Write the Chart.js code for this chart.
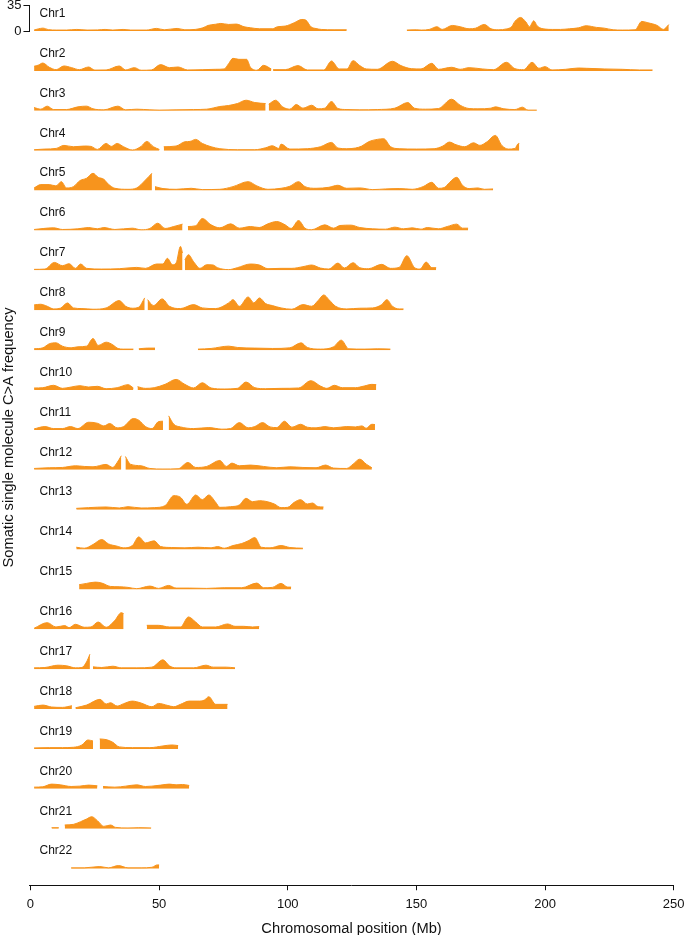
<!DOCTYPE html>
<html><head><meta charset="utf-8">
<script src="https://cdn.jsdelivr.net/npm/chart.js@4.4.1/dist/chart.umd.min.js"></script>
<style>html,body{margin:0;padding:0;background:#fff}#wrap{width:691px;height:935px;position:relative}</style>
</head><body><div id="wrap"><canvas id="c" width="691" height="935"></canvas></div>
<script>
const chrNames = ['Chr1','Chr2','Chr3','Chr4','Chr5','Chr6','Chr7','Chr8','Chr9','Chr10','Chr11','Chr12','Chr13','Chr14','Chr15','Chr16','Chr17','Chr18','Chr19','Chr20','Chr21','Chr22'];
const xTicks = [0,50,100,150,200,250];
const yTicks = [0,35];
const xTitle = 'Chromosomal position (Mb)';
const yTitle = 'Somatic single molecule C>A frequency';

// [position (Mb), frequency]; null marks a gap
const chr1 = [[1.4,1.5],[3,3],[4.8,4.1],[7,2],[10,1.4],[14,1.4],[18,2.3],[22,1.4],[26,1.6],[29,2.3],[32,1.4],[36,2.3],[39,1.4],[45,1.4],[49,3.7],[52,1.8],[57,3.7],[60,1.8],[64,2.3],[67,4.5],[69,7.8],[72,9.5],[74,10.6],[77,9.2],[80,9.7],[83,6],[85.5,4.6],[89,3.2],[94,3.2],[96,6],[99,6.9],[102.5,11.5],[105.5,16.1],[107,15.2],[109,6],[111,3.5],[113,2.3],[118,1.8],[122.9,1.8],[123.5,null],[146.3,1.4],[150,1.8],[152,1.4],[155,2.3],[158,6],[160,2.3],[164,7.8],[167,6],[170.5,3.2],[173,4],[176.4,9.2],[179,3.2],[182,1.8],[185,3],[187,6],[188.3,13.4],[190.5,18.9],[192.5,12.9],[194,6],[195.6,14.3],[197,6.9],[200,2.8],[203,2.3],[206,2.3],[209.5,3.2],[213,4.5],[216,7.4],[220,5.1],[223,4.1],[226.5,1.8],[230,1.4],[235,1.8],[237.6,13.4],[240,11.5],[243.6,7.8],[246,2.3],[248.1,9]];
const chr2 = [[1.4,6.5],[3,8],[4.8,11],[7.3,5.1],[10,1.8],[13,6.9],[16,4.6],[19,1.8],[22.6,5.5],[25,1.2],[29.4,1.4],[34.5,6.9],[37,1.4],[40.4,4.6],[43,1],[47,1.4],[50.6,8.8],[54,4.6],[57.4,5.5],[61,1.4],[67,1.8],[72,2.3],[75.3,2.8],[77,10],[78.7,17.5],[81,16.1],[84,16.1],[85.5,5.1],[88,1],[90.6,7.8],[93.6,2.8],[94,null],[94.3,1.8],[99,1.8],[104,7.4],[107.6,1.4],[114,1.4],[117,13.8],[120,2.8],[123,2.8],[125.4,14.3],[128,7.4],[130.5,2.8],[134.8,2.3],[140.7,13.4],[144,7.4],[148,3.2],[151.8,2.8],[156,10.6],[158.6,2.3],[163.7,5.1],[167,2.3],[170.5,4.6],[175.6,2.8],[180,1.8],[185,12],[188.3,3.2],[191.7,1.8],[195,12],[197.6,3.7],[200,6],[202.7,1.4],[208,2.3],[213,4.1],[216,3.7],[223,2.8],[230,2.3],[236.7,1.4],[241.8,1.4]];
const chr3 = [[1.4,4.6],[4,2.3],[6.5,6.5],[9,1.8],[14,1.8],[18.4,5.5],[21.8,6.5],[24.3,2.8],[28.5,1.4],[34,6.5],[37,1.4],[41.3,2.3],[46.4,1.4],[50,1],[56.6,1.4],[63.4,1.8],[68.5,2.3],[73.6,6],[77,7.4],[80.4,10.1],[83.8,14.7],[87.2,11.5],[91.4,10.1],[91.9,null],[92.6,9.2],[95.3,14.7],[98,5.5],[100.8,2.3],[103.3,8.8],[105.9,3.7],[109.3,7.8],[111.8,2.8],[114.4,3.7],[117,12.9],[119.5,3.2],[123,1.8],[128,1.4],[134.8,1.8],[141.6,3.7],[146.7,11.5],[149.2,3.7],[153.5,2.3],[158.6,3.2],[163.7,16.1],[167,7.8],[170.5,3.2],[173.9,2.8],[179,3.7],[180.7,5.5],[184,2.8],[188.3,1.8],[191.2,5.1],[193.4,1],[196.8,1]];
const chr4 = [[1.4,1.4],[5.6,2.3],[10,3.2],[13,7.4],[16.7,5.5],[21,6.5],[23.5,6],[26,1.8],[29.4,10.1],[31.4,6],[33.7,10.1],[36.2,5.5],[39.6,1],[43,6],[45.2,12.9],[47.8,5.5],[50.1,1.8],[50.9,null],[51.8,5.5],[56.6,6.5],[60,12.4],[62,12.9],[64.2,15.7],[66.8,10.1],[70.2,5.5],[73.6,2.8],[80.4,1.4],[87.2,1.4],[91.4,4.1],[94,6.9],[96.5,3.2],[97.4,9.2],[100.8,2.3],[107.6,2.8],[112.7,5.5],[117,11.5],[119.5,3.7],[122.9,2.8],[126.3,3.7],[128.8,6.5],[131.4,12.4],[134.8,15.7],[137.3,16.6],[140,5.5],[143.3,2.8],[150,2.3],[156.9,2.8],[160.3,6.5],[162.8,12],[165.4,8.3],[168.8,5.5],[172.2,11],[174.7,7.4],[177.3,12],[180.7,21.2],[183.2,7.4],[185.8,2.3],[188.3,3.2],[189.7,10.1],[190,10]];
const chr5 = [[1.4,3.7],[4,8.3],[7.3,8.3],[9.9,6.5],[12,12.4],[14,3.7],[16.7,5.5],[19.2,13.8],[21.8,17.1],[24.3,24],[26.3,18.4],[28.5,15.7],[30.3,8.8],[32.8,3.2],[37.9,1.8],[41.3,3.7],[44.7,14.7],[47.2,24],[47.6,null],[48.4,5.5],[51.5,2.8],[56.6,1.8],[62.5,3.2],[66.8,1.4],[73.6,1.8],[78.7,5.5],[84.6,12.4],[88,6.5],[92.3,1.8],[97.4,3.2],[100.8,6],[104.2,12.4],[106.7,5.5],[111,3.2],[116,4.6],[119.5,7.4],[122.9,3.2],[128,3.7],[133,1.4],[138,2.3],[143.3,2.8],[148.4,1.8],[152.6,5.5],[156,11.5],[158.6,3.2],[161,4.6],[162.8,11],[165.7,18.4],[167.9,7.4],[170.5,2.8],[173.9,3.7],[176.4,1.8],[179.8,2.3]];
const chr6 = [[1.4,1.4],[9,3.7],[12.4,1.4],[18.4,2.3],[22.6,4.1],[26,2.3],[28.5,4.1],[32.8,1.4],[39.6,3.2],[43,0.9],[46.4,2.8],[49.5,10.1],[52.3,2.8],[55.7,5.5],[59.1,8.8],[59.6,null],[61.2,5.5],[64.2,6.5],[66.8,16.6],[70.2,7.8],[73.6,3.7],[77.8,9.2],[81.2,3.2],[85.5,5.5],[88.9,4.1],[92.3,9.2],[95.7,12.4],[99,7.8],[101.3,2.8],[104.2,13.8],[106.7,3.2],[109.3,1],[114.4,7.8],[117.8,3.2],[120.3,6.9],[124.6,7.4],[128,4.1],[133,2.3],[138,1.8],[141.6,4.6],[145,2.3],[148.4,3.7],[151.8,1.8],[154.3,4.1],[158.6,2.3],[162,5.5],[165.7,8.8],[167.9,3.2],[170.1,3.2]];
const chr7 = [[1.4,1.4],[5.6,1.8],[9.3,11],[12.4,6.5],[15,9.2],[17.5,2.8],[19.5,8.8],[21.8,2.8],[27.7,1.8],[34.5,2.3],[41.3,4.1],[44.7,2.8],[49,8.8],[51.5,8.8],[53.2,16.6],[55.2,7.8],[56.6,10.1],[58.3,33.2],[59.1,24],[59.4,null],[60,14.7],[61.4,21.7],[63.4,12],[65.9,2.8],[68.5,7.8],[71,7.4],[72.7,3.7],[77,1],[80.4,3.7],[85.5,8.8],[89,7.4],[92.3,2.3],[97.4,2.8],[101.6,2.8],[105.9,5.1],[109.3,7.4],[112.7,3.2],[116,1.8],[119.5,10.1],[122,3.2],[125.4,10.6],[128,3.7],[131.4,2.3],[136.5,8.3],[139.9,2.8],[143.3,4.1],[146.3,20.3],[149.2,4.1],[151.4,1.8],[153.8,11.5],[156,3.7],[157.7,3.7]];
const chr8 = [[1.4,7.4],[3.9,8.3],[6.5,5.5],[9,1.8],[11.6,2.8],[14.4,10.1],[16.7,3.2],[20,2.3],[24.3,1.4],[29.4,3.2],[34.5,13.4],[37,5.5],[39.6,2.8],[42,4.1],[44.4,17.1],[44.9,null],[45.5,14.7],[47.8,6.5],[51.2,15.7],[54,5.5],[58.3,2.3],[63.4,7.8],[66.8,3.2],[72,2.3],[77,10.1],[78.7,14.7],[81.2,5.5],[84.6,18.4],[86.8,10.1],[89,17.1],[91.4,9.2],[94,6.5],[97.4,3.2],[101.6,1.4],[105.9,7.8],[109.3,5.5],[111.8,13.4],[114,21.2],[116,14.7],[118.6,5.5],[122.9,1.8],[128,2.8],[133,3.2],[136.5,7.8],[138.5,14.7],[140.7,5.5],[143.3,1.8],[145,1.8]];
const chr9 = [[1.4,1.8],[4.8,3.2],[7.3,8.8],[9.9,10.1],[12.4,5.5],[15.8,3.2],[18.4,4.6],[21.8,5.5],[24.3,16.1],[26.3,6.5],[29.4,11],[32,7.4],[33.7,2.8],[36.2,1.4],[40,1.4],[41,null],[42.1,1.8],[45.5,2.8],[48.4,2.8],[55,null],[65.1,1.4],[70.2,2.3],[77,5.5],[80.4,3.7],[87.2,2.8],[94,2.3],[100.8,3.2],[105.2,10.1],[107.6,3.7],[112.7,1.4],[117.8,4.6],[120.8,13.8],[123.7,1.8],[129.7,1.4],[134.8,1.8],[139.9,1.4]];
const chr10 = [[1.4,2.8],[4.8,3.2],[9,6.5],[12.4,2.3],[15.8,4.1],[19.2,6],[22.6,4.1],[26,5.1],[29.4,1.8],[33.7,3.2],[37.9,7.4],[40,2.8],[40.6,null],[41.6,4.6],[44.7,2.3],[48.1,3.2],[52.3,7.8],[56.6,14.7],[60,7.8],[63.4,2.8],[66.8,10.1],[70.2,2.8],[75.3,1.4],[80.4,2.3],[83.8,11],[87.2,3.2],[91.4,1.8],[97.4,2.3],[104.2,2.8],[109,12.9],[112.7,5.5],[115.2,2.3],[118.1,6.5],[121.2,3.2],[126.3,3.2],[129.7,5.5],[132.7,7.8],[134.4,7.4]];
const chr11 = [[1.4,1.4],[5.6,4.6],[9,1.8],[12.4,1.8],[15.5,4.6],[18.4,1.8],[22.6,10.6],[26,9.2],[28.5,5.5],[30.8,8.8],[33.7,2.8],[36.2,4.6],[40,15.7],[42.1,13.4],[44.7,4.6],[47.2,1.8],[49.8,11.5],[51.5,12],[52.5,null],[53.7,19.4],[55.7,7.8],[58.3,4.1],[63.4,1.8],[69.3,3.2],[74.4,1],[77.8,1.8],[81.2,10.1],[84.6,2.8],[87.2,4.6],[90.2,10.1],[93.1,4.1],[95.7,3.2],[98.7,12],[101.6,3.7],[105,7.8],[107.6,3.7],[111,2.8],[114.4,4.6],[117.8,2.8],[122.9,4.6],[126.3,4.1],[128.8,5.5],[130.5,2.3],[132.7,7.8],[133.9,7.4]];
const chr12 = [[1.4,1.8],[7.3,2.8],[12.4,3.2],[17.5,5.5],[20.9,4.6],[24.3,4.1],[29.4,7.4],[32,3.2],[33.7,10.1],[35.3,19.4],[35.9,null],[36.9,18.4],[38.8,7.8],[43,5.5],[46.4,1.8],[51.5,1],[57.4,1.4],[61.2,10.1],[64.2,3.2],[68.5,4.6],[73.6,12.9],[76.1,4.6],[78.3,9.2],[81.2,5.5],[85.5,6.5],[90.6,4.6],[95.7,2.8],[100.8,4.1],[105.9,3.2],[111,2.8],[114.7,6.5],[117.8,2.3],[122.9,1.8],[125.4,7.8],[128,14.7],[130.5,7.8],[132.7,2.8]];
const chr13 = [[17.8,1.8],[22.6,2.8],[29.4,3.7],[34.5,2.3],[37.9,4.1],[43,2.3],[48.1,2.8],[52.3,5.5],[55.7,19.4],[58.3,17.1],[60.8,7.4],[64.2,20.3],[66.8,13.8],[69.3,20.3],[72,10.1],[73.6,3.2],[77.8,4.1],[81.2,6.5],[83.8,15.7],[86.3,11],[89,12.4],[91.4,11.5],[94.8,7.8],[97.4,2.8],[100,3.2],[102.5,10.1],[105,13.8],[107.6,7.8],[109.6,9.2],[111.8,4.1],[113.9,3.7]];
const chr14 = [[17.8,3.2],[20.9,1.8],[24.3,6.9],[27.7,13.8],[30.3,7.8],[33.7,4.6],[36.2,2.3],[39.6,5.5],[42.1,17.5],[44.7,9.2],[48.1,12],[50.6,4.1],[54.9,2.8],[60,2.3],[65.1,3.2],[70.2,2.3],[72.7,4.1],[75.3,1.8],[78.7,5.5],[82.1,8.3],[84.6,12],[87.2,16.6],[89.7,3.2],[93.1,2.3],[97.4,5.5],[100.8,2.8],[105.9,1.8]];
const chr15 = [[18.9,6.5],[21.8,8.3],[25.2,10.1],[27.7,8.8],[31.1,4.1],[34.5,3.7],[37.9,2.8],[41.3,1],[46.4,4.6],[49.8,1.4],[53.7,5.5],[56.6,1.8],[61.7,1.8],[68.5,1.4],[75.3,2.3],[82.1,2.3],[88,8.8],[90.6,2.3],[94,2.8],[97.4,8.3],[100,3.2],[101.3,3.2]];
const chr16 = [[1.4,1.4],[6.5,9.2],[9.9,3.2],[13.3,5.1],[15,2.3],[17.5,6.9],[20.9,2.8],[23.5,3.2],[26.3,10.1],[29.4,2.8],[32.8,12.4],[35.3,23],[36.2,21.7],[40,null],[45.2,5.5],[49.8,5.5],[54,3.2],[58.3,3.2],[61.4,17.1],[64.2,10.1],[66.8,3.2],[72,3.2],[76.6,7.4],[79.5,4.1],[82.9,4.1],[86.3,3.2],[88.9,3.7]];
const chr17 = [[1.4,1.8],[5.6,2.3],[10.7,5.5],[14.1,4.6],[17.5,1.8],[20,2.3],[21.8,10.1],[23.1,20.7],[23.6,null],[24.3,3.2],[27.7,2.3],[32,4.1],[35.3,1.8],[41.3,1.8],[47.2,2.8],[51.5,12.9],[54,4.6],[56.6,1.8],[63.4,1.8],[68.2,5.5],[71,2.8],[76.1,2.8],[79.5,1.8]];
const chr18 = [[1.4,3.7],[4.8,5.5],[8.2,2.8],[12.4,2.3],[16.1,4.6],[16.7,null],[17.5,1.8],[21.8,5.5],[27,13.4],[29.4,6.9],[31.1,8.8],[33.7,4.1],[36.2,7.4],[39.6,11],[43,8.3],[47.2,3.2],[49.8,7.8],[53.2,5.1],[55.7,3.2],[58.3,6.5],[61.7,11],[65.1,11],[67.6,12.4],[69.3,17.1],[72,6.5],[76.6,6.5]];
const chr19 = [[1.4,1.4],[7.3,1.8],[12.4,1.8],[16.7,2.3],[20,5.5],[22.3,12.4],[24.3,11],[25.5,null],[26.9,13.8],[29.4,12.9],[32,9.2],[34.5,2.8],[39.6,1.8],[46.4,1.8],[51.5,4.1],[54.9,5.5],[57.4,4.6]];
const chr20 = [[1.4,2.3],[4.8,2.8],[8.2,6.5],[11.6,5.5],[15.8,3.2],[19.2,3.7],[22.6,5.1],[26,4.1],[27.2,null],[28.2,3.2],[32.8,2.3],[37,3.7],[41.3,5.5],[44.7,3.2],[47.2,3.7],[50.6,5.1],[54,6.5],[56.6,5.5],[59.1,6],[61.7,4.6]];
const chr21 = [[8.2,1.4],[11,1.4],[12,null],[13.3,5.1],[16.7,6],[19.5,9.7],[21.8,13.4],[23.8,16.6],[26,11.1],[28.5,3.2],[31.1,5.1],[33.1,1.8],[37.9,1],[42.1,1.4],[46.9,1]];
const chr22 = [[15.8,1],[20.9,1],[26.9,2.8],[30.3,1],[34.2,4.1],[37.9,1],[43,1],[47.2,1.8],[49.3,5.1],[50,5]];

const chrData = [chr1,chr2,chr3,chr4,chr5,chr6,chr7,chr8,chr9,chr10,chr11,chr12,chr13,chr14,chr15,chr16,chr17,chr18,chr19,chr20,chr21,chr22];

const ORANGE = '#F7941D';
const TEXT = '#111111';
Chart.defaults.font.family = '"Liberation Sans", Arial, Helvetica, sans-serif';
Chart.defaults.color = TEXT;

const datasets = chrData.map((arr, i) => ({
  label: chrNames[i],
  data: arr.map(([x, y]) => ({x, y})),
  yAxisID: 'y' + (i + 1),
  backgroundColor: ORANGE,
  borderColor: ORANGE,
  borderWidth: 1,
  fill: 'origin',
  pointRadius: 0,
  pointHoverRadius: 0,
  cubicInterpolationMode: 'monotone',
  spanGaps: false
}));

const noPad = s => { s.paddingTop = 0; s.paddingBottom = 0; };
const scales = {
  x: {
    type: 'linear', position: 'bottom', min: -0.4, max: 250,
    afterBuildTicks: s => { s.ticks = xTicks.map(v => ({value: v})); },
    ticks: {font: {size: 13}, color: TEXT, padding: 6.5, maxRotation: 0, autoSkip: false},
    grid: {display: true, drawOnChartArea: false, drawTicks: true, tickLength: 5, color: TEXT, lineWidth: 1},
    border: {display: true, color: TEXT, width: 1},
    title: {display: true, text: xTitle, font: {size: 14.7}, color: TEXT, padding: {top: 1, bottom: 0}}
  }
};
chrNames.forEach((n, i) => {
  const first = i === 0, last = i === chrNames.length - 1;
  scales['y' + (i + 1)] = {
    type: 'linear', position: 'left', stack: 'rows', weight: chrNames.length - i,
    stackWeight: first ? 25.3 : (last ? 56.6 : 39.9),
    min: last ? -23.1 : 0,
    max: first ? 35 : 55.2,
    display: first,
    afterBuildTicks: first ? (s => { s.ticks = yTicks.map(v => ({value: v})); }) : undefined,
    afterFit: noPad,
    ticks: {display: first, font: {size: 13}, color: TEXT, padding: 2, autoSkip: false},
    grid: {display: first, drawOnChartArea: false, drawTicks: true, tickLength: 6, color: TEXT},
    border: {display: first, color: TEXT, width: 1}
  };
});

const textPlugin = {
  id: 'chrText',
  afterDraw(chart) {
    const ctx = chart.ctx, xs = chart.scales.x;
    ctx.save();
    ctx.fillStyle = TEXT;
    ctx.font = '12px "Liberation Sans", Arial, sans-serif';
    ctx.textAlign = 'left';
    ctx.textBaseline = 'middle';
    chrNames.forEach((n, i) => {
      const ys = chart.scales['y' + (i + 1)];
      ctx.fillText(n, xs.getPixelForValue(0) + 9, ys.getPixelForValue(0) - 17.5);
    });
    const ca = chart.chartArea;
    ctx.translate(8.5, (ca.top + ca.bottom) / 2 - 8);
    ctx.rotate(-Math.PI / 2);
    ctx.textAlign = 'center';
    ctx.font = '14.7px "Liberation Sans", Arial, sans-serif';
    ctx.fillText(yTitle, 0, 0);
    ctx.restore();
  }
};

new Chart(document.getElementById('c'), {
  type: 'line',
  data: {datasets},
  options: {
    responsive: false,
    animation: false,
    events: [],
    layout: {padding: {left: 5, right: 15, top: 5.8, bottom: -2.5}},
    plugins: {legend: {display: false}, tooltip: {enabled: false}},
    scales
  },
  plugins: [textPlugin]
});
</script>
</body></html>
